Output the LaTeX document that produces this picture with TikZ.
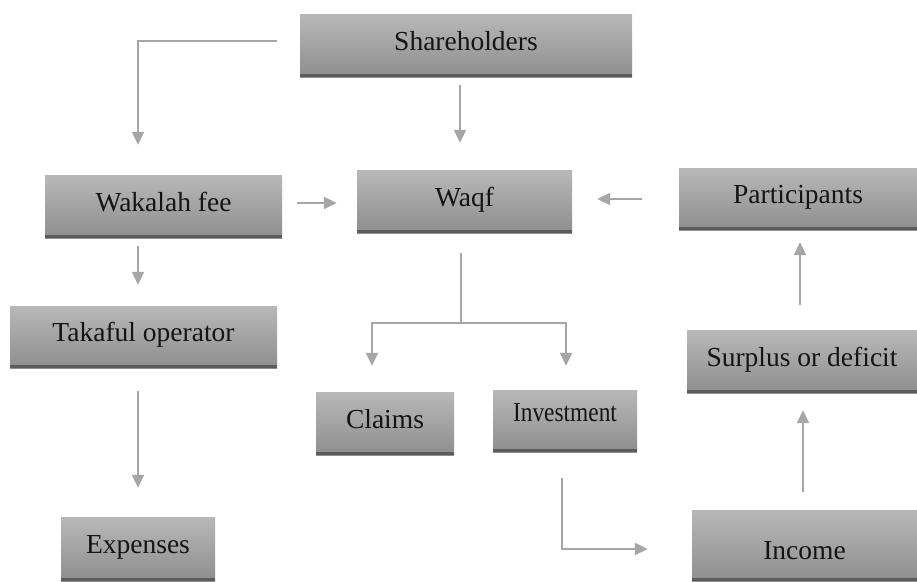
\documentclass[tikz,border=0pt]{standalone}
\usepackage{fontspec}
\setmainfont{Liberation Serif}
\usetikzlibrary{arrows.meta,calc}
\definecolor{boxtop}{RGB}{184,184,184}
\definecolor{boxbot}{RGB}{142,142,142}
\definecolor{barcol}{RGB}{92,92,92}
\definecolor{arrcol}{RGB}{166,166,166}
\definecolor{txtcol}{RGB}{20,20,20}
\tikzset{
  fbox/.style={rectangle, inner sep=0pt, top color=boxtop, bottom color=boxbot,
    text=txtcol, font=\fontsize{27.5pt}{30pt}\selectfont,
    text height=19pt, text depth=10pt,
    path picture={\fill[barcol] ([yshift=3.5pt]path picture bounding box.south west) rectangle (path picture bounding box.south east);}},
  arr/.style={draw=arrcol, line width=2pt, -{Triangle[length=13pt,width=12pt]}},
  plain/.style={draw=arrcol, line width=2pt}
}
\begin{document}
\begin{tikzpicture}[x=1pt,y=-1pt]
\fill[white] (0,0) rectangle (917,581);
\useasboundingbox (0,0) rectangle (917,581);
\node[fbox, minimum width=332pt, minimum height=63pt] (sh) at (466,45.5) {Shareholders};
\node[fbox, minimum width=237pt, minimum height=63pt] (wak) at (163.5,206.5) {Wakalah fee};
\node[fbox, minimum width=215pt, minimum height=63pt] (waqf) at (464.5,201.5) {Waqf};
\node[fbox, minimum width=238pt, minimum height=62pt] (part) at (798,199) {Participants};
\node[fbox, minimum width=267pt, minimum height=62pt] (tak) at (143.5,337) {Takaful operator};
\node[fbox, minimum width=138pt, minimum height=63pt] (claims) at (385,423.5) {Claims};
\node[fbox, minimum width=144pt, minimum height=62pt, text depth=18pt] (inv) at (565,421) {\scalebox{0.85}[1]{Investment}};
\node[fbox, minimum width=230pt, minimum height=63pt] (surp) at (802,361.5) {Surplus or deficit};
\node[fbox, minimum width=154pt, minimum height=64pt] (exp) at (138,549) {Expenses};
\node[fbox, minimum width=225pt, minimum height=71pt, text height=27pt, text depth=0pt] (inc) at (804.5,545.5) {Income};

\draw[arr] ([xshift=-23pt,yshift=5pt]sh.west) -| ([xshift=-25.5pt,yshift=30pt]wak.north);
\draw[arr] ([xshift=-6pt,yshift=-8pt]sh.south) -- ([xshift=-4.5pt,yshift=27pt]waqf.north);
\draw[arr] ([xshift=15pt,yshift=3.5pt]wak.east) -- ([xshift=-20pt,yshift=-1.5pt]waqf.west);
\draw[arr] ([xshift=-37pt]part.west) -- ([xshift=25pt,yshift=2.5pt]waqf.east);
\draw[arr] ([xshift=-25.5pt,yshift=-8pt]wak.south) -- ([xshift=-5.5pt,yshift=21pt]tak.north);
\coordinate (br) at ([xshift=-3.5pt,yshift=-90pt]waqf.south);
\draw[plain] ([xshift=-3.5pt,yshift=-20pt]waqf.south) -- (br);
\draw[arr] (br) -| ([xshift=-13pt,yshift=26pt]claims.north);
\draw[arr] (br) -| ([xshift=1pt,yshift=24pt]inv.north);
\draw[arr] ([xshift=-5.5pt,yshift=-23pt]tak.south) -- ([yshift=29pt]exp.north);
\draw[arr] ([xshift=-3pt,yshift=-26pt]inv.south) |- ([xshift=-44pt,yshift=-3.5pt]inc.west);
\draw[arr] ([xshift=-1.5pt,yshift=18pt]inc.north) -- ([xshift=1pt,yshift=-17pt]surp.south);
\draw[arr] ([xshift=-2pt,yshift=25pt]surp.north) -- ([xshift=2pt,yshift=-12pt]part.south);
\end{tikzpicture}
\end{document}
